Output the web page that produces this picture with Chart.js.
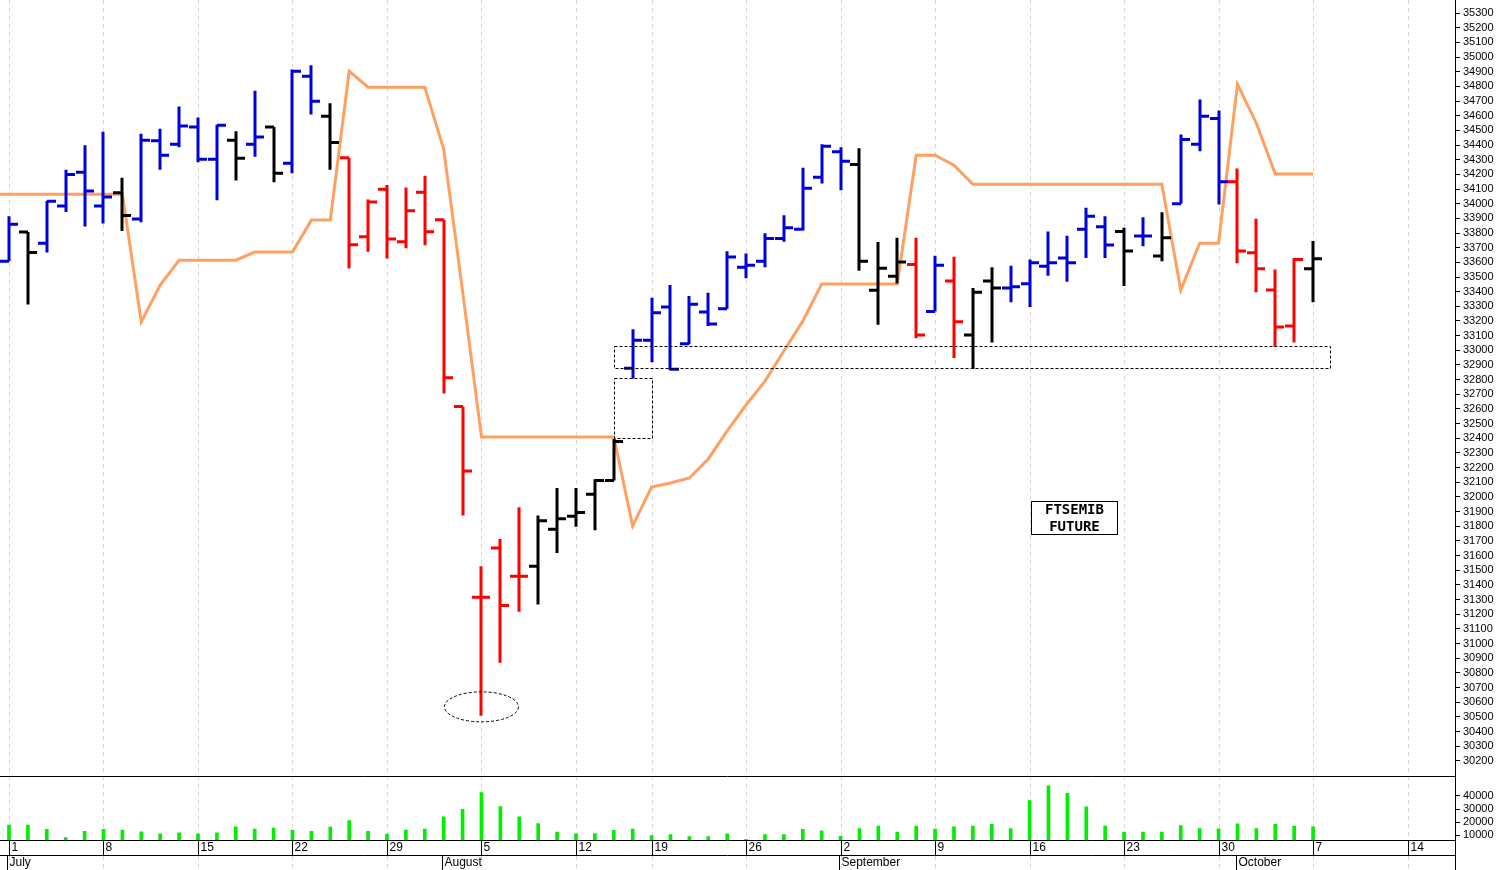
<!DOCTYPE html>
<html><head><meta charset="utf-8">
<script src="https://cdn.jsdelivr.net/npm/chart.js@4/dist/chart.umd.min.js"></script>
<style>
html,body{margin:0;padding:0;background:#fff;overflow:hidden}
#w1{position:absolute;left:0;top:0;width:1503px;height:777px}
#w2{position:absolute;left:0;top:776px;width:1503px;height:94px}
</style></head><body>
<div id="w1"><canvas id="c1"></canvas></div>
<div id="w2"><canvas id="c2"></canvas></div>
<script>
// trading-day index 0 = 1 July (2024)
const opens  = [33608,33807,33731,33984,34215,33984,34074,33895,34429,34406,34524,34304,34433,34406,34524,34276,34870,34597,34313,33774,34098,33741,34078,33890,32617,31315,31652,31458,31527,31779,31868,32019,32112,32878,33069,33296,33045,33262,33284,33566,33608,33763,33826,34181,34354,34268,33410,33506,33586,33264,33472,33104,33472,33425,33454,33574,33630,33826,33842,33811,33779,33643,33999,34406,34581,34150,33665,33411,33166,33557];
const highs  = [33915,33807,34021,34232,34398,34490,34177,34477,34511,34663,34588,34539,34495,34770,34524,34915,34945,34686,34313,34028,34127,34110,34190,33890,32617,31527,31713,31929,31874,32060,32060,32121,32395,33143,33359,33445,33370,33393,33675,33661,33798,33922,34245,34405,34385,34379,33738,33768,33768,33645,33638,33425,33566,33577,33620,33811,33781,33972,33915,33836,33908,33942,34472,34710,34636,34240,33897,33552,33630,33745];
const lows   = [33608,33313,33667,33943,33845,33865,33813,33873,34232,34385,34283,34023,34159,34320,34147,34208,34608,34232,33558,33672,33627,33697,33716,32706,31874,30508,30868,31216,31266,31617,31796,31772,32112,32807,32918,32864,33041,33166,33284,33491,33566,33740,33818,34137,34091,33542,33174,33456,33083,33264,32948,32872,33053,33327,33295,33509,33468,33630,33630,33439,33709,33608,33999,34358,33995,33594,33396,33023,33053,33327];
const closes = [33860,33668,34016,34200,34086,34045,33920,34433,34331,34530,34304,34535,34310,34455,34208,34904,34699,34418,33720,34011,33759,33952,33809,32812,32177,31315,31259,31458,31837,31851,31893,32112,32378,33069,33257,32870,33314,33180,33636,33581,33763,33836,34105,34392,34290,33608,33560,33603,33105,33581,33195,33396,33425,33434,33597,33597,33597,33915,33718,33677,33779,33767,34438,34597,34150,33677,33557,33159,33619,33625];
const barColors = ['b','k','b','b','b','b','k','b','b','b','b','b','k','b','k','b','b','k','r','r','r','r','r','r','r','r','r','r','k','k','k','k','k','b','b','b','b','b','b','b','b','b','b','b','b','k','k','k','r','b','r','k','k','b','b','b','b','b','b','k','b','k','b','b','b','r','r','r','r','k'];
const stopX = [-0.48,0,1,2,3,4,5,6,7,8,9,10,11,12,13,14,15,16,17,18,19,20,21,22,23,24,25,26,27,28,29,30,31,32,33,34,35,36,37,38,39,40,41,42,43,44,45,46,47,48,49,50,51,52,53,54,55,56,57,58,59,60,61,62,63,64,65,66,67,68,69];
const stopLine = [34065,34065,34065,34065,34065,34065,34065,34065,33193,33445,33615,33615,33615,33615,33670,33670,33670,33888,33888,34904,34795,34795,34795,34795,34372,33404,32409,32409,32409,32409,32409,32409,32409,32409,31802,32068,32095,32129,32259,32450,32627,32790,32995,33199,33452,33452,33452,33452,33452,34331,34331,34263,34133,34133,34133,34133,34133,34133,34133,34133,34133,34133,34133,33411,33731,33731,34815,34549,34202,34202,34202];
const volumes = [17860,17860,14500,8300,13100,14500,14000,12600,11200,11900,11200,11900,16400,14800,15500,14000,13100,16200,21200,13100,11000,14000,14800,24000,29800,42600,31900,24000,19000,12400,11200,11400,13800,14800,9800,10500,9000,9000,11200,6900,10500,10500,14500,13500,9300,15200,17100,12400,17100,14800,16400,17100,18300,15200,36400,49000,41900,31700,17100,12400,12400,12400,17400,15200,15000,18800,15200,18300,17100,16400];
const weekIdx = [0,5,10,15,20,25,30,34,39,44,49,54,59,64,69,74];
const weekLabels = ['1','8','15','22','29','5','12','19','26','2','9','16','23','30','7','14'];
const monthIdx = [0,23,44,65];
const monthLabels = ['July','August','September','October'];
const colorMap = {b:'#0000dd',k:'#000000',r:'#ff0000'};

const XMIN=-0.476, XMAX=76.51;
const FONT='"Liberation Sans", Arial, sans-serif';

const gridPlugin = {id:'vgrid', beforeDatasetsDraw(ch){
  const {ctx,chartArea:a,scales:{x}}=ch; ctx.save(); ctx.strokeStyle='#d8d8d8'; ctx.lineWidth=1; ctx.setLineDash([4,4]);
  weekIdx.forEach(i=>{const px=Math.round(x.getPixelForValue(i))+0.5; ctx.beginPath(); ctx.moveTo(px,0); ctx.lineTo(px,ch.height); ctx.stroke();});
  ctx.setLineDash([]); ctx.strokeStyle='#000'; ctx.beginPath(); ctx.moveTo(Math.round(a.right)+0.5,0); ctx.lineTo(Math.round(a.right)+0.5,ch.height); ctx.stroke();
  ctx.restore();}};

const ohlcPlugin = {id:'ohlc', afterDatasetsDraw(ch){
  const {ctx,scales:{x,y}}=ch; ctx.save(); ctx.lineWidth=3; ctx.lineCap='butt';
  for(let i=0;i<opens.length;i++){
    const px=Math.round(x.getPixelForValue(i)); ctx.strokeStyle=colorMap[barColors[i]];
    ctx.beginPath(); ctx.moveTo(px,y.getPixelForValue(highs[i])); ctx.lineTo(px,y.getPixelForValue(lows[i]));
    const yo=y.getPixelForValue(opens[i]), yc=y.getPixelForValue(closes[i]);
    ctx.moveTo(px-9,yo); ctx.lineTo(px,yo); ctx.moveTo(px,yc); ctx.lineTo(px+9,yc); ctx.stroke();
  }
  ctx.lineWidth=1; ctx.strokeStyle='#000'; ctx.setLineDash([3,2]);
  const rect=(x0,x1,p0,p1)=>{const X0=x.getPixelForValue(x0),X1=x.getPixelForValue(x1),Y0=y.getPixelForValue(p0),Y1=y.getPixelForValue(p1);ctx.strokeRect(Math.round(X0)+0.5,Math.round(Y0)+0.5,Math.round(X1-X0),Math.round(Y1-Y0));};
  rect(32.0,69.9,33030,32880);
  rect(32.0,34.0,32810,32400);
  ctx.beginPath(); ctx.ellipse(x.getPixelForValue(25),y.getPixelForValue(30568),37,15,0,0,Math.PI*2); ctx.stroke();
  ctx.setLineDash([]);
  const bx=x.getPixelForValue(54.1), by=y.getPixelForValue(31970);
  ctx.strokeRect(Math.round(bx)+0.5,Math.round(by)+0.5,86,33);
  ctx.fillStyle='#000'; ctx.font='bold 14px "DejaVu Sans Mono", monospace'; ctx.textAlign='center'; ctx.textBaseline='middle';
  ctx.fillText('FTSEMIB',bx+43,by+9); ctx.fillText('FUTURE',bx+43,by+26);
  ctx.restore();}};

const yAxisCommon = {position:'right', afterFit(s){s.width=48;},
  grid:{drawOnChartArea:false, drawTicks:true, tickLength:5, color:'#000'}, border:{display:true,color:'#000'},
  ticks:{color:'#000', font:{family:FONT,size:11}, padding:3, autoSkip:false, callback:v=>String(v)}};

new Chart(document.getElementById('c1'),{
  type:'line',
  data:{datasets:[{data:stopLine.map((v,i)=>({x:stopX[i],y:v})), borderColor:'#ffa060', borderWidth:3, pointRadius:0, tension:0}]},
  options:{responsive:true, maintainAspectRatio:false, animation:false, layout:{padding:0},
    plugins:{legend:{display:false},tooltip:{enabled:false}},
    scales:{
      x:{type:'linear', min:XMIN, max:XMAX, display:false},
      y:Object.assign({}, yAxisCommon, {min:30155, max:35324,
        afterBuildTicks(s){const t=[];for(let v=30200;v<=35300;v+=100)t.push({value:v});s.ticks=t;}})
    }},
  plugins:[gridPlugin, ohlcPlugin]
});

const dateAxisPlugin = {id:'dates', afterDraw(ch){
  const {ctx,chartArea:a,scales:{x}}=ch; ctx.save(); ctx.strokeStyle='#000'; ctx.lineWidth=1;
  const b=64;
  ctx.beginPath(); ctx.moveTo(0,0.5); ctx.lineTo(a.right,0.5);
  ctx.moveTo(0,b+0.5); ctx.lineTo(a.right,b+0.5);
  ctx.moveTo(0,b+15.5); ctx.lineTo(a.right,b+15.5); ctx.stroke();
  ctx.fillStyle='#000'; ctx.font='12px '+FONT; ctx.textBaseline='middle';
  weekIdx.forEach((i,k)=>{const px=Math.round(x.getPixelForValue(i))+0.5;
    ctx.beginPath(); ctx.moveTo(px,b); ctx.lineTo(px,b+15); ctx.stroke();
    ctx.fillText(weekLabels[k],px+2,b+8);});
  monthIdx.forEach((i,k)=>{const px=Math.round(x.getPixelForValue(i-0.1))+0.5;
    ctx.beginPath(); ctx.moveTo(px,b+15); ctx.lineTo(px,b+30); ctx.stroke();
    ctx.fillText(monthLabels[k],px+2,b+23);});
  ctx.restore();}};

new Chart(document.getElementById('c2'),{
  type:'bar',
  data:{datasets:[{data:volumes.map((v,i)=>({x:i,y:v})), backgroundColor:'#00ee00', barThickness:3, base:0}]},
  options:{responsive:true, maintainAspectRatio:false, animation:false, layout:{padding:{bottom:30}},
    plugins:{legend:{display:false},tooltip:{enabled:false}},
    scales:{
      x:{type:'linear', min:XMIN, max:XMAX, display:false, offset:false},
      y:Object.assign({}, yAxisCommon, {min:6430, max:47860,
        afterBuildTicks(s){s.ticks=[10000,20000,30000,40000].map(v=>({value:v}));}})
    }},
  plugins:[gridPlugin, dateAxisPlugin]
});
</script></body></html>
